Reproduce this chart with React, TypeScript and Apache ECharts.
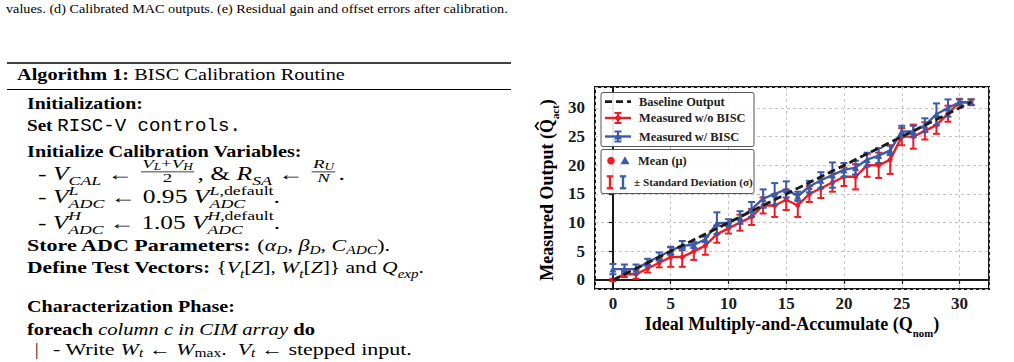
import React, { useEffect, useRef } from 'react';
import * as echarts from 'echarts';

// ---------- data ----------
const nominal = [0, 1, 2, 3, 4, 5, 6, 7, 8, 9, 10, 11, 12, 13, 14, 15, 16, 17, 18, 19, 20, 21, 22, 23, 24, 25, 26, 27, 28, 29, 30, 31];
const baselineOutput = [0, 1, 2, 3, 4, 5, 6, 7, 8, 9, 10, 11, 12, 13, 14, 15, 16, 17, 18, 19, 20, 21, 22, 23, 24, 25, 26, 27, 28, 29, 30, 31];
const meanNoBisc = [0, 1, 1, 2, 3, 4, 4, 5, 6, 8, 9, 10, 11, 13, 13, 14, 13, 15, 16, 17, 18, 18, 20, 20, 21, 25, 25, 26, 27, 29, 31, 31];
const sdNoBisc = [0.2, 0.5, 0.8, 0.7, 0.8, 1.7, 1.7, 1.5, 1.6, 1.5, 0.9, 1.4, 1.4, 1.4, 2.0, 1.8, 2.0, 1.4, 1.7, 1.6, 1.6, 2.2, 2.0, 2.2, 2.5, 1.5, 2.1, 1.5, 1.5, 1.4, 0.6, 0.5];
const meanBisc = [1.9, 1.9, 1.9, 3.1, 4.1, 5.1, 6.0, 6.1, 7.1, 9.9, 10.0, 10.9, 12.3, 14.2, 15.0, 15.8, 14.6, 16.3, 17.4, 18.3, 19.2, 19.6, 21.0, 21.7, 22.6, 25.9, 25.9, 27.0, 28.9, 30.0, 31.0, 31.0];
const sdBisc = [0.9, 0.8, 0.8, 0.6, 0.7, 0.7, 0.8, 0.5, 0.5, 1.9, 0.6, 1.1, 1.3, 1.6, 1.9, 1.4, 0.8, 1.0, 1.4, 2.2, 1.2, 1.2, 1.2, 1.3, 0.8, 1.0, 1.0, 1.2, 1.9, 1.5, 0.5, 0.5];
const tickStep = 5;

const legendLabels = ['Baseline Output', 'Measured w/o BISC', 'Measured w/ BISC', 'Mean (μ)', '± Standard Deviation (σ)'];

// ---------- styles ----------
const RED = '#ec1c24';
const BLUE = '#3c5aa6';
const BLACK = '#1a1a1a';
const SERIF = '"Liberation Serif", "Times New Roman", serif';
const MONO = '"Liberation Mono", "Courier New", monospace';

type Seg = {
  t?: string; s?: number; b?: boolean; i?: boolean; m?: boolean; dy?: number; hat?: boolean;
  gap?: number; num?: Seg[]; den?: Seg[]; sup?: Seg[]; sub?: Seg[];
};

let mctx: CanvasRenderingContext2D | null = null;
function fontStr(sz: number, g: Seg) {
  return `${g.i ? 'italic ' : ''}${g.b ? 'bold ' : ''}${sz}px ${g.m ? MONO : SERIF}`;
}
function measure(t: string, sz: number, g: Seg) {
  if (!mctx) mctx = document.createElement('canvas').getContext('2d');
  mctx!.font = fontStr(sz, g);
  return mctx!.measureText(t).width;
}

function layout(segs: Seg[], x0: number, base: number, F: number, out: any[]): number {
  let x = x0;
  for (const g of segs) {
    if (g.gap != null) { x += g.gap * F; continue; }
    if (g.num) {
      const fs = F * 0.74;
      const wn = layout(g.num, 0, 0, fs, []);
      const wd = layout(g.den || [], 0, 0, fs, []);
      const w = Math.max(wn, wd) + 0.2 * F;
      const bar = base - 0.45 * F;
      layout(g.num, x + (w - wn) / 2, bar - 0.2 * F, fs, out);
      layout(g.den || [], x + (w - wd) / 2, bar + 0.54 * F, fs, out);
      out.push({ type: 'line', silent: true, shape: { x1: x + 0.05 * F, y1: bar, x2: x + w - 0.05 * F, y2: bar }, style: { stroke: '#000', lineWidth: 0.8 } });
      x += w + 0.08 * F;
      continue;
    }
    if (g.sup || g.sub) {
      const fs = F * 0.7;
      let w = 0;
      if (g.sup) w = Math.max(w, layout(g.sup, x, base - 0.5 * F, fs, out));
      if (g.sub) w = Math.max(w, layout(g.sub, x, base + 0.24 * F, fs, out));
      x += w;
      continue;
    }
    let t = g.t || '';
    const sz = F * (g.s ?? 1);
    const lead = (t.match(/^ */) || [''])[0];
    if (lead.length) { x += measure(lead, sz, g); t = t.slice(lead.length); }
    const yb = base + (g.dy ?? 0) * F;
    const w = measure(t, sz, g);
    out.push({
      type: 'text', silent: true, x, y: yb - (g.m ? 0.27 : 0.34) * sz,
      style: {
        text: t, fontSize: sz, fontFamily: g.m ? MONO : SERIF,
        fontWeight: g.b ? 'bold' : 'normal', fontStyle: g.i ? 'italic' : 'normal',
        fill: '#000', align: 'left', verticalAlign: 'middle',
      },
    });
    if (g.hat) {
      out.push({
        type: 'polyline', silent: true,
        shape: { points: [[x + w * 0.22, yb - 0.8 * sz], [x + w * 0.5, yb - 0.98 * sz], [x + w * 0.78, yb - 0.8 * sz]] },
        style: { stroke: '#000', lineWidth: 1.6, fill: 'none' },
      });
    }
    x += w;
  }
  return x - x0;
}

const r = (t: string): Seg => ({ t });
const bo = (t: string): Seg => ({ t, b: true });
const it = (t: string): Seg => ({ t, i: true });
const sb = (t: string, i = true, dy = 0.24): Seg => ({ t, i, s: 0.7, dy });

// x: left edge, xEnd: right edge of the line in the reference, base: baseline
type Line = { x: number; xEnd?: number; base: number; F: number; segs: Seg[] };

const BODY = 17.5;
const MATH = 18;
const algLines: Line[] = [
  { x: 17, xEnd: 345, base: 79.5, F: 17.5, segs: [bo('Algorithm 1:'), r(' BISC Calibration Routine')] },
  { x: 27, xEnd: 143, base: 109, F: BODY, segs: [bo('Initialization:')] },
  { x: 27, xEnd: 241, base: 131.5, F: BODY, segs: [bo('Set'), r(' '), { t: 'RISC-V controls.', m: true }] },
  { x: 27, xEnd: 302, base: 156.5, F: BODY, segs: [bo('Initialize Calibration Variables:')] },
  {
    x: 38, xEnd: 345, base: 180, F: MATH, segs: [
      r('- '), it('V'), sb('CAL'), r(' ← '),
      { num: [it('V'), sb('L', true, 0.14), r('+'), it('V'), sb('H', true, 0.14)], den: [r('2')] },
      r(', & '), it('R'), sb('SA'), r(' ← '),
      { num: [it('R'), sb('U', true, 0.14)], den: [it('N')] }, r('.'),
    ],
  },
  {
    x: 38, xEnd: 280, base: 203.5, F: MATH, segs: [
      r('- '), it('V'), { sup: [it('L')], sub: [it('ADC')] }, r(' ← 0.95 '), it('V'),
      { sup: [it('L'), r(',default')], sub: [it('ADC')] }, r('.'),
    ],
  },
  {
    x: 38, xEnd: 280, base: 229, F: MATH, segs: [
      r('- '), it('V'), { sup: [it('H')], sub: [it('ADC')] }, r(' ← 1.05 '), it('V'),
      { sup: [it('H'), r(',default')], sub: [it('ADC')] }, r('.'),
    ],
  },
  {
    x: 27, xEnd: 390, base: 250.5, F: BODY, segs: [
      bo('Store ADC Parameters:'), r(' ('), it('α'), sb('D'), r(', '), it('β'), sb('D'), r(', '), it('C'), sb('ADC'), r(').'),
    ],
  },
  {
    x: 27, xEnd: 424, base: 273.5, F: BODY, segs: [
      bo('Define Test Vectors:'), r(' {'), it('V'), sb('t'), r('['), it('Z'), r('], '), it('W'), sb('t'), r('['), it('Z'), r(']} and '),
      it('Q'), sb('exp'), r('.'),
    ],
  },
  { x: 27, xEnd: 235, base: 311.5, F: BODY, segs: [bo('Characterization Phase:')] },
  { x: 27, xEnd: 315, base: 334.5, F: BODY, segs: [bo('foreach'), it(' column c in CIM array '), bo('do')] },
  { x: 35, base: 354.5, F: BODY, segs: [r('|')] },
  {
    x: 53, xEnd: 412, base: 354.5, F: BODY, segs: [
      r('- Write '), it('W'), sb('t', true, 0.17), r(' ← '), it('W'), sb('max', false, 0.17), r('.  '), it('V'), sb('t', true, 0.17), r(' ← stepped input.'),
    ],
  },
];

function lineGroup(ln: Line) {
  const children: any[] = [];
  const w = layout(ln.segs, 0, ln.base, ln.F, children);
  const S = ln.xEnd != null ? (ln.xEnd - ln.x) / w : 1;
  return { type: 'group', x: ln.x, y: 0, scaleX: S, scaleY: 1, silent: true, children };
}

function buildGraphic() {
  const g: any[] = [];
  // caption
  g.push(lineGroup({ x: 6, xEnd: 508, base: 13, F: 13, segs: [r('values. (d) Calibrated MAC outputs. (e) Residual gain and offset errors after calibration.')] }));
  // algorithm rules
  g.push({ type: 'line', silent: true, shape: { x1: 7, y1: 63, x2: 511, y2: 63 }, style: { stroke: '#000', lineWidth: 1.6 } });
  g.push({ type: 'line', silent: true, shape: { x1: 7, y1: 89.5, x2: 511, y2: 89.5 }, style: { stroke: '#000', lineWidth: 1 } });
  for (const ln of algLines) g.push(lineGroup(ln));

  // x axis name
  const xs: Seg[] = [bo('Ideal Multiply-and-Accumulate (Q'), { t: 'nom', b: true, s: 0.6, dy: 0.38 }, bo(')')];
  const xw = layout(xs, 0, 0, 18, []);
  const xc: any[] = [];
  layout(xs, 792 - xw / 2, 330, 18, xc);
  g.push({ type: 'group', silent: true, children: xc });

  // y axis name (rotated)
  const ys: Seg[] = [bo('Measured Output ('), { t: 'Q', b: true, hat: true }, { t: 'act', b: true, s: 0.6, dy: 0.34 }, bo(')')];
  const yw = layout(ys, 0, 0, 18, []);
  const yc: any[] = [];
  layout(ys, -yw / 2, 0, 18, yc);
  g.push({ type: 'group', silent: true, x: 553, y: 190, rotation: Math.PI / 2, children: yc });

  // legend box 1
  const lx = 601;
  g.push({ type: 'rect', silent: true, shape: { x: lx, y: 92.5, width: 153, height: 54, r: 2 }, style: { fill: 'rgba(255,255,255,0.9)', stroke: '#555', lineWidth: 1 }, z: 100 });
  const ltxt = (t: string, x: number, y: number, size = 12.4) => ({
    type: 'text', silent: true, x, y, z: 101,
    style: { text: t, fontSize: size, fontFamily: SERIF, fontWeight: 'bold', fill: '#222', align: 'left', verticalAlign: 'middle' },
  });
  const rows = [101.7, 118, 136.5];
  g.push({ type: 'line', silent: true, z: 101, shape: { x1: 605, y1: rows[0], x2: 631, y2: rows[0] }, style: { stroke: BLACK, lineWidth: 2.8, lineDash: [7, 4] } });
  g.push(ltxt(legendLabels[0], 639, rows[0]));
  const errSample = (color: string, y: number, tri: boolean) => {
    const cx = 618;
    const items: any[] = [
      { type: 'line', silent: true, z: 101, shape: { x1: 605, y1: y, x2: 631, y2: y }, style: { stroke: color, lineWidth: 2.4 } },
      { type: 'line', silent: true, z: 101, shape: { x1: cx, y1: y - 5, x2: cx, y2: y + 5 }, style: { stroke: color, lineWidth: 2 } },
      { type: 'line', silent: true, z: 101, shape: { x1: cx - 3.5, y1: y - 5, x2: cx + 3.5, y2: y - 5 }, style: { stroke: color, lineWidth: 2 } },
      { type: 'line', silent: true, z: 101, shape: { x1: cx - 3.5, y1: y + 5, x2: cx + 3.5, y2: y + 5 }, style: { stroke: color, lineWidth: 2 } },
    ];
    if (tri) items.push({ type: 'polygon', silent: true, z: 102, shape: { points: [[cx, y - 4], [cx + 4, y + 3], [cx - 4, y + 3]] }, style: { fill: color } });
    else items.push({ type: 'circle', silent: true, z: 102, shape: { cx, cy: y, r: 2.8 }, style: { fill: color } });
    return items;
  };
  g.push(...errSample(RED, rows[1], false));
  g.push(ltxt(legendLabels[1], 639, rows[1]));
  g.push(...errSample(BLUE, rows[2], true));
  g.push(ltxt(legendLabels[2], 639, rows[2]));

  // legend box 2
  g.push({ type: 'rect', silent: true, shape: { x: lx, y: 149.5, width: 153, height: 44, r: 2 }, style: { fill: 'rgba(255,255,255,0.9)', stroke: '#555', lineWidth: 1 }, z: 100 });
  const r2 = [160.7, 182.3];
  g.push({ type: 'circle', silent: true, z: 101, shape: { cx: 611, cy: r2[0], r: 3.8 }, style: { fill: RED } });
  g.push({ type: 'polygon', silent: true, z: 101, shape: { points: [[625, r2[0] - 4.5], [629.5, r2[0] + 3.5], [620.5, r2[0] + 3.5]] }, style: { fill: BLUE } });
  g.push(ltxt(legendLabels[3], 638, r2[0]));
  const iGlyph = (color: string, cx: number, y: number) => [
    { type: 'line', silent: true, z: 101, shape: { x1: cx, y1: y - 6, x2: cx, y2: y + 6 }, style: { stroke: color, lineWidth: 2.4 } },
    { type: 'line', silent: true, z: 101, shape: { x1: cx - 3.2, y1: y - 6, x2: cx + 3.2, y2: y - 6 }, style: { stroke: color, lineWidth: 2.2 } },
    { type: 'line', silent: true, z: 101, shape: { x1: cx - 3.2, y1: y + 6, x2: cx + 3.2, y2: y + 6 }, style: { stroke: color, lineWidth: 2.2 } },
  ];
  g.push(...iGlyph(RED, 610, r2[1]));
  g.push(...iGlyph(BLUE, 623, r2[1]));
  g.push(ltxt(legendLabels[4], 634, r2[1], 11.2));
  return g;
}

const errRender = (color: string) => (_params: any, api: any) => {
  const x = api.value(0);
  const p1 = api.coord([x, api.value(1)]);
  const p2 = api.coord([x, api.value(2)]);
  const c = 3.5;
  const st = { stroke: color, lineWidth: 2 };
  return {
    type: 'group',
    children: [
      { type: 'line', shape: { x1: p1[0], y1: p1[1], x2: p2[0], y2: p2[1] }, style: st },
      { type: 'line', shape: { x1: p1[0] - c, y1: p1[1], x2: p1[0] + c, y2: p1[1] }, style: st },
      { type: 'line', shape: { x1: p2[0] - c, y1: p2[1], x2: p2[0] + c, y2: p2[1] }, style: st },
    ],
  };
};

const tickFmt = (v: number) => (Math.abs(v / tickStep - Math.round(v / tickStep)) < 1e-6 ? String(Math.round(v) + 0) : '');

function buildOption(): any {
  const axisCommon = {
    type: 'value',
    splitNumber: 7,
    minInterval: tickStep,
    maxInterval: tickStep,
    axisLine: { show: true, lineStyle: { color: BLACK, width: 2 } },
    axisTick: { show: true, inside: false, length: 4, lineStyle: { color: BLACK, width: 1.2 } },
    splitLine: { show: true, lineStyle: { color: '#c4c4c4', width: 1, type: [3, 3] } },
    axisLabel: { formatter: tickFmt, color: BLACK, fontFamily: SERIF, fontWeight: 'bold', fontSize: 17, showMinLabel: false, showMaxLabel: false },
  };
  return {
    animation: false,
    backgroundColor: '#fff',
    grid: { left: 595, top: 87, width: 394, height: 202, show: true, borderColor: BLACK, borderWidth: 2, backgroundColor: '#fff' },
    xAxis: { ...axisCommon, min: -1.55, max: 32.55, axisLabel: { ...axisCommon.axisLabel, margin: 6 } },
    yAxis: { ...axisCommon, min: -1.57, max: 33.66, axisLabel: { ...axisCommon.axisLabel, margin: 10 } },
    graphic: { elements: buildGraphic() },
    series: [
      {
        type: 'custom', name: 'sd w/o', silent: true, z: 2, renderItem: errRender(RED), encode: { x: 0, y: [1, 2] },
        data: nominal.map((x, i) => [x, meanNoBisc[i] - sdNoBisc[i], meanNoBisc[i] + sdNoBisc[i]]),
      },
      {
        type: 'line', name: legendLabels[1], z: 3, data: nominal.map((x, i) => [x, meanNoBisc[i]]),
        symbol: 'circle', symbolSize: 5, itemStyle: { color: RED }, lineStyle: { color: RED, width: 2.4 }, silent: true,
      },
      {
        type: 'custom', name: 'sd w/', silent: true, z: 4, renderItem: errRender(BLUE), encode: { x: 0, y: [1, 2] },
        data: nominal.map((x, i) => [x, meanBisc[i] - sdBisc[i], meanBisc[i] + sdBisc[i]]),
      },
      {
        type: 'line', name: legendLabels[2], z: 5, data: nominal.map((x, i) => [x, meanBisc[i]]),
        symbol: 'triangle', symbolSize: 7, itemStyle: { color: BLUE }, lineStyle: { color: BLUE, width: 2.4 }, silent: true,
      },
      {
        type: 'line', name: legendLabels[0], z: 6, data: nominal.map((x, i) => [x, baselineOutput[i]]),
        symbol: 'none', lineStyle: { color: BLACK, width: 2.8, type: [8, 4] }, silent: true,
      },
    ],
  };
}

export default function App() {
  const ref = useRef<HTMLDivElement>(null);
  useEffect(() => {
    document.body.style.margin = '0';
    const chart = echarts.init(ref.current!, undefined, { renderer: 'svg' });
    chart.setOption(buildOption());
    return () => chart.dispose();
  }, []);
  return <div ref={ref} style={{ width: 1014, height: 362 }} />;
}
